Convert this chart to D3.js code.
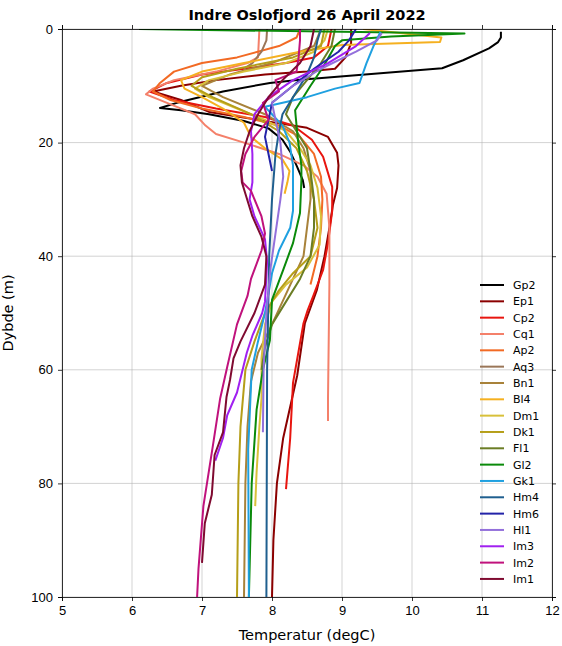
<!DOCTYPE html>
<html>
<head>
<meta charset="utf-8">
<script src="https://cdn.jsdelivr.net/npm/d3@7.9.0/dist/d3.min.js"></script>
<style>
  body { margin: 0; background: #fff; }
  svg { font-family: "DejaVu Sans", sans-serif; }
  .grid line { stroke: #b0b0b0; stroke-width: 0.8; stroke-opacity: 0.7; }
  .axis path, .axis line { stroke: #000; stroke-width: 0.8; }
  .axis text { font-size: 13px; fill: #000; }
</style>
</head>
<body>
<svg width="562" height="646"></svg>
<script>
// station names and colours (plot order = legend order)
const stations = ["Gp2","Ep1","Cp2","Cq1","Ap2","Aq3","Bn1","Bl4","Dm1","Dk1","Fl1","Gl2","Gk1","Hm4","Hm6","Hl1","Im3","Im2","Im1"];
const colors = ["#000000","#8b0000","#e8150f","#f4806a","#f26a24","#9a7658","#a8823a","#f5b020","#d8c03a","#b59e18","#6b7d25","#0a8a0a","#1fa0e0","#1f5f8f","#2323a8","#9370db","#a020f0","#c0127c","#7f0a30"];

// profiles: [depth (m), temperature (degC)]
const gp2 = [[0.5,11.27],[1.5,11.27],[2.3,11.23],[3.4,11.1],[5.5,10.73],[6.9,10.43],[9.0,8.36],[9.5,7.97],[11,7.3],[13,6.64],[13.9,6.4],[14.3,6.7],[15,7.1],[16.2,7.6],[17.5,7.95],[19.5,8.15],[21.6,8.26],[24,8.35],[26.6,8.44],[28,8.46]];
const ep1 = [[0,9.13],[2.5,9.13],[5,9.05],[7,8.9],[7.5,8.5],[8,7.9],[9,7.2],[10,6.7],[11,6.3],[12.5,6.7],[14.6,7.1],[16,7.8],[17.4,8.5],[19,8.8],[21.8,8.93],[24,8.95],[28,8.93],[31,8.87],[35,8.82],[40,8.75],[46,8.64],[51.8,8.47],[61,8.36],[66.5,8.26],[72,8.16],[80,8.07],[90,8.02],[100,8.0]];
const cp2 = [[0,8.85],[3,8.8],[5,8.6],[6,8.2],[7,7.6],[8,7.0],[9.5,6.5],[11,6.25],[12.5,6.6],[14,7.2],[15.5,7.9],[17,8.3],[19.5,8.57],[22.5,8.73],[27.8,8.86],[32,8.86],[37.7,8.8],[42.4,8.73],[47,8.59],[49.5,8.51],[51.8,8.45],[62.3,8.3],[72,8.26],[81,8.2]];
const cq1 = [[0,7.82],[5,7.8],[6,7.65],[7.5,7.2],[9,6.6],[10.5,6.3],[11.5,6.2],[13,6.5],[15,6.9],[17,7.05],[18.5,7.2],[20,7.6],[22,8.1],[24,8.45],[26,8.65],[29,8.78],[35,8.82],[45,8.82],[55,8.81],[65,8.8],[69,8.8]];
const ap2 = [[0,8.4],[1.5,8.35],[3,8.1],[5,7.5],[6,7.0],[7.5,6.6],[9.5,6.4],[11,6.3],[12.5,6.55],[14,7.0],[15.5,7.6],[17,8.1],[19,8.4],[22,8.6],[26,8.7],[30,8.72],[35,8.7],[40,8.65],[45,8.55]];
const aq3 = [[0,7.93],[2,7.92],[4,7.85],[6,7.72],[7,7.6]];
const bn1 = [[0,8.7],[3,8.6],[6,8.0],[8,7.4],[10,7.0],[12,7.3],[15,7.9],[18,8.3],[21,8.45],[25,8.55],[30,8.55],[35,8.5],[40,8.45],[44,8.3],[48,8.15],[52,8.0],[57,7.8],[62,7.7],[70,7.65],[80,7.62],[100,7.6]];
const bl4 = [[0,9.3],[1.5,10.42],[2.3,10.4],[2.8,9.0],[4,8.4],[6,7.6],[7.5,7.0],[9,6.7],[10.5,6.75],[12,7.0],[14,7.3],[16.5,7.6],[19,7.7],[21,7.9],[23,8.15],[25,8.25],[27,8.22],[29,8.18]];
const dm1 = [[0,8.8],[2,8.75],[4,8.6],[6,8.2],[7.5,7.6],[9,7.1],[10.5,6.9],[12,7.1],[14,7.5],[16,7.9],[18,8.2],[21,8.4],[24,8.55],[28,8.65],[33,8.7],[38,8.68],[42,8.5],[45,8.2],[48,8.0],[52,7.9],[58,7.85],[65,7.85],[70,7.82],[78,7.78],[84,7.76]];
const dk1 = [[0,8.75],[3,8.7],[5,8.3],[7,7.5],[8.5,7.0],[10,6.85],[12,7.15],[15,7.7],[18,8.1],[21,8.35],[25,8.5],[30,8.6],[35,8.65],[40,8.55],[43,8.3],[46,8.1],[50,7.9],[55,7.75],[60,7.62],[70,7.55],[80,7.52],[100,7.5]];
const fl1 = [[0,8.9],[3,8.85],[6,8.7],[9,8.5],[12,8.3],[15,8.2],[18,8.35],[21,8.5],[25,8.55],[30,8.6],[35,8.6],[40,8.55],[44,8.4],[48,8.2],[52,8.0],[56,7.9],[60,7.85]];
const gl2 = [[0,6.1],[0.8,10.75],[1.3,9.7],[2,9.0],[3,8.9],[6.7,8.73],[10,8.55],[14.3,8.33],[19.5,8.37],[24,8.42],[26.6,8.42],[32.4,8.4],[37.7,8.3],[42.4,8.16],[47.7,8.0],[54.8,7.97],[60,7.87],[67,7.78],[80,7.71],[100,7.67]];
const gk1 = [[0.5,9.55],[3,9.45],[6,9.35],[9.5,9.25],[10.5,8.9],[12,8.5],[13.7,7.9],[15,8.0],[17,8.15],[20,8.25],[24,8.3],[32,8.3],[35,8.26],[39,8.1],[43,8.0],[50,7.9],[55,7.8],[60,7.71],[74,7.66],[100,7.67]];
const hm4 = [[0,8.7],[2,8.65],[5,8.6],[8,8.5],[12,8.3],[15,8.15],[18,8.1],[22,8.05],[30,8.0],[40,7.96],[60,7.93],[100,7.92]];
const hm6 = [[0,9.2],[2,9.1],[4,8.95],[7,8.6],[10,8.3],[13,8.0],[16,7.95],[19,7.9],[22,7.95],[25,8.0]];
const hl1 = [[0.7,9.57],[2,9.5],[4,9.2],[7,8.7],[10,8.3],[13,8.0],[16,8.05],[20,8.12],[26,8.16],[30,8.12],[36,8.05],[42,7.98],[50,7.92],[60,7.88],[71,7.87]];
const im3 = [[0.7,9.4],[3,9.2],[6,8.8],[9,8.3],[12,7.95],[15,7.75],[18,7.7],[22,7.72],[27,7.72],[30,7.68],[33,7.75],[37,7.9],[41,7.93],[48,7.9],[50,7.86],[54,7.72],[57,7.64],[64,7.5],[68,7.36],[72,7.3],[76,7.19]];
const im2 = [[0,8.4],[2,8.4],[5,8.38],[7.5,8.35],[9,8.05],[11,8.1],[13,7.87],[16,7.95],[19,7.75],[22,7.62],[25,7.56],[27,7.58],[28.5,7.7],[33,7.85],[36,7.9],[39,7.85],[44,7.7],[47,7.65],[52,7.5],[59.5,7.36],[65,7.26],[73,7.16],[84,7.02],[95,6.95],[100,6.93]];
const im1 = [[0,8.6],[3,8.55],[6,8.4],[9,8.15],[12,7.95],[15,7.8],[18,7.68],[21,7.6],[24,7.55],[27,7.57],[29,7.62],[33,7.72],[36.6,7.85],[40,7.92],[45,7.9],[50,7.75],[55,7.55],[58,7.45],[61.8,7.4],[64.8,7.35],[71,7.3],[75,7.18],[82,7.14],[87,7.04],[94,7.0]];

const profiles = [gp2, ep1, cp2, cq1, ap2, aq3, bn1, bl4, dm1, dk1, fl1, gl2, gk1, hm4, hm6, hl1, im3, im2, im1];

const xTicks = [5, 6, 7, 8, 9, 10, 11, 12];
const yTicks = [0, 20, 40, 60, 80, 100];

const margin = { top: 29, right: 10, bottom: 49, left: 62 };
const width = 562, height = 646;
const svg = d3.select('svg');

const x = d3.scaleLinear().domain([5, 12]).range([margin.left, width - margin.right]);
const y = d3.scaleLinear().domain([0, 100]).range([margin.top, height - margin.bottom]);

// grid
const grid = svg.append('g').attr('class', 'grid');
grid.selectAll('.gx').data(xTicks).join('line')
    .attr('x1', d => x(d)).attr('x2', d => x(d))
    .attr('y1', y(0)).attr('y2', y(100));
grid.selectAll('.gy').data(yTicks).join('line')
    .attr('y1', d => y(d)).attr('y2', d => y(d))
    .attr('x1', x(5)).attr('x2', x(12));

svg.append('clipPath').attr('id', 'clip')
  .append('rect')
    .attr('x', x(5)).attr('y', y(0))
    .attr('width', x(12) - x(5)).attr('height', y(100) - y(0));

const line = d3.line().x(d => x(d[1])).y(d => y(d[0]));

svg.append('g').attr('clip-path', 'url(#clip)')
  .selectAll('path').data(profiles).join('path')
    .attr('d', line)
    .attr('fill', 'none')
    .attr('stroke', (d, i) => colors[i])
    .attr('stroke-width', 2)
    .attr('stroke-linejoin', 'round');

// axes
svg.append('g').attr('class', 'axis')
    .attr('transform', `translate(0,${y(100)})`)
    .call(d3.axisBottom(x).tickValues(xTicks).tickFormat(d3.format('d')).tickSize(4).tickPadding(5));
svg.append('g').attr('class', 'axis')
    .attr('transform', `translate(0,${y(0)})`)
    .call(d3.axisTop(x).tickValues(xTicks).tickSize(4).tickFormat(''));
svg.append('g').attr('class', 'axis')
    .attr('transform', `translate(${x(5)},0)`)
    .call(d3.axisLeft(y).tickValues(yTicks).tickSize(4).tickPadding(5));
svg.append('g').attr('class', 'axis')
    .attr('transform', `translate(${x(12)},0)`)
    .call(d3.axisRight(y).tickValues(yTicks).tickSize(4).tickFormat(''));

svg.selectAll('.axis .domain').attr('stroke-width', 1);

// title and labels
svg.append('text')
    .attr('x', (x(5) + x(12)) / 2).attr('y', 20)
    .attr('text-anchor', 'middle')
    .attr('font-size', 14.5).attr('font-weight', 'bold')
    .text('Indre Oslofjord 26 April 2022');
svg.append('text')
    .attr('x', (x(5) + x(12)) / 2).attr('y', 640)
    .attr('text-anchor', 'middle')
    .attr('font-size', 14.5)
    .text('Temperatur (degC)');
svg.append('text')
    .attr('transform', `translate(13,${(y(0) + y(100)) / 2}) rotate(-90)`)
    .attr('text-anchor', 'middle')
    .attr('font-size', 14.5)
    .text('Dybde (m)');

// legend
const legend = svg.append('g').attr('transform', 'translate(480,285)');
stations.forEach((name, i) => {
    const row = legend.append('g').attr('transform', `translate(0,${i * 16.33})`);
    row.append('line')
        .attr('x1', 0).attr('x2', 24)
        .attr('stroke', colors[i]).attr('stroke-width', 2);
    row.append('text')
        .attr('x', 33).attr('y', 4)
        .attr('font-size', 11)
        .text(name);
});
</script>
</body>
</html>
